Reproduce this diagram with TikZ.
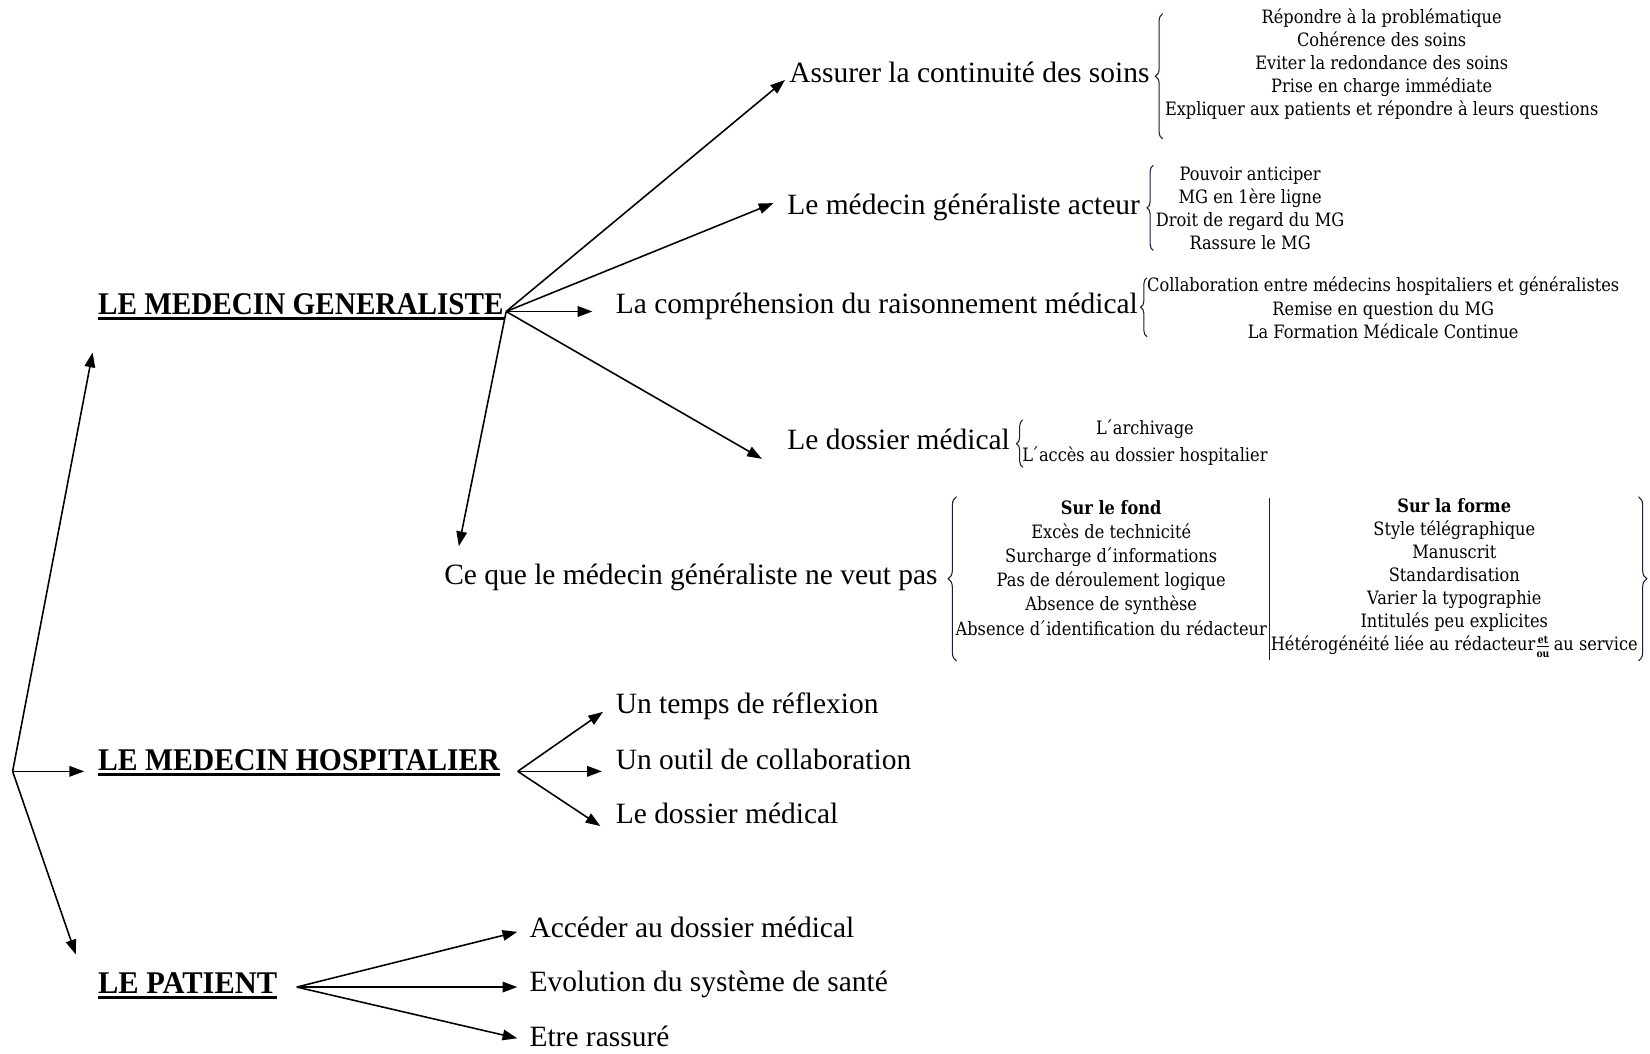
\documentclass[tikz,border=0pt]{standalone}
\usepackage{amsmath}
\usepackage{fontspec}
\setmainfont{Liberation Serif}
\newfontfamily\headf[FakeStretch=0.94]{Liberation Serif}
\newfontfamily\headfmg[FakeStretch=0.925]{Liberation Serif}
\newfontfamily\headfpat[FakeStretch=0.965]{Liberation Serif}
\newfontfamily\smallf[FakeStretch=0.88]{DejaVu Serif}
\usetikzlibrary{arrows.meta,decorations.pathreplacing,calc}
\definecolor{brc}{RGB}{25,30,55}
\begin{document}
\begin{tikzpicture}[x=1pt,y=-1pt,
  head/.style={anchor=base west,inner sep=0pt,font=\headf\bfseries\fontsize{30}{34}\selectfont},
  big/.style={anchor=base west,inner sep=0pt,font=\fontsize{28}{32}\selectfont},
  lst/.style={align=center,inner sep=0pt,font=\smallf\fontsize{17.5}{22}\selectfont},
  arr/.style={line width=1.5pt,-{Triangle[length=14pt,width=10pt]}},
  ul/.style={line width=2.6pt},
  br/.style={draw=brc,line width=1pt,decorate,decoration={brace,amplitude=#1,aspect=0.5}},
  br/.default=6pt,
  sep/.style={draw=brc,line width=1pt}
]
\useasboundingbox[fill=white] (0,0) rectangle (1568,1001);

% headings
\node[head,font=\headfmg\bfseries\fontsize{30}{34}\selectfont] (mg) at (93,299) {LE MEDECIN GENERALISTE};
\node[head] (mh) at (93,732) {LE MEDECIN HOSPITALIER};
\node[head,font=\headfpat\bfseries\fontsize{30}{34}\selectfont] (pat) at (93,944) {LE PATIENT};
\foreach \n in {mg,mh,pat}
  \draw[ul] ($(\n.base west)+(0,4)$) -- ($(\n.base east)+(0,4)$);

% hub points
\coordinate (root) at (12,733);
\coordinate (hubMG) at (481,296);
\coordinate (hubMH) at (492,733);
\coordinate (hubPat) at (282,938);

% second level texts
\node[big] (assurer) at (750,78.5) {Assurer la continuité des soins};
\node[big] (acteur) at (748,204) {Le médecin généraliste acteur};
\node[big] (compr) at (585,298) {La compréhension du raisonnement médical};
\node[big] (dossier) at (748,427) {Le dossier médical};
\node[big] (ceque) at (422,555) {Ce que le médecin généraliste ne veut pas};
\node[big] (temps) at (585,678) {Un temps de réflexion};
\node[big] (outil) at (585,731) {Un outil de collaboration};
\node[big] (dossierh) at (585,782.5) {Le dossier médical};
\node[big] (acceder) at (503,890.5) {Accéder au dossier médical};
\node[big] (evol) at (503,942.5) {Evolution du système de santé};
\node[big] (etre) at (503,994.5) {Etre rassuré};

% arrows from root
\draw[arr] (root) -- ($(mg.base west)+(-5,36)$);
\draw[arr] (root) -- ($(mh.base west)+(-13,1)$);
\draw[arr] (root) -- ($(pat.base west)+(-21,-37)$);

% arrows from MG
\draw[arr] (hubMG) -- ($(assurer.base west)+(-4,-2.5)$);
\draw[arr] (hubMG) -- ($(acteur.base west)+(-13,-11)$);
\draw[arr] (hubMG) -- ($(compr.base west)+(-22,-2)$);
\draw[arr] (hubMG) -- ($(dossier.base west)+(-24,9)$);
\draw[arr] (hubMG) -- ($(ceque.base west)+(14,-36)$);

% arrows from MH
\draw[arr] (hubMH) -- ($(temps.base west)+(-12,-1.5)$);
\draw[arr] (hubMH) -- ($(outil.base west)+(-13,2)$);
\draw[arr] (hubMH) -- ($(dossierh.base west)+(-14.5,2.5)$);

% arrows from patient
\draw[arr] (hubPat) -- ($(acceder.base west)+(-11.4,-5)$);
\draw[arr] (hubPat) -- ($(evol.base west)+(-11.4,-4.5)$);
\draw[arr] (hubPat) -- ($(etre.base west)+(-11.4,-7.8)$);

% lists
\node[lst] (l1) at (1313,61) {Répondre à la problématique\\Cohérence des soins\\Eviter la redondance des soins\\Prise en charge immédiate\\Expliquer aux patients et répondre à leurs questions};
\node[lst] (l2) at (1188,198) {Pouvoir anticiper\\MG en 1ère ligne\\Droit de regard du MG\\Rassure le MG};
\node[lst] (l3) at (1314.5,292.5) {Collaboration entre médecins hospitaliers et généralistes\\Remise en question du MG\\La Formation Médicale Continue};
\node[lst,font=\smallf\fontsize{17.5}{25}\selectfont] (l4) at (1088,420.5) {L\kern-2pt´archivage\\L\kern-2pt´accès au dossier hospitalier};
\node[lst,font=\smallf\fontsize{17.5}{23}\selectfont] (l5a) at (1056,539.5) {\textbf{Sur le fond}\\Excès de technicité\\Surcharge d\kern-2pt´informations\\Pas de déroulement logique\\Absence de synthèse\\Absence d\kern-2pt´identification du rédacteur};
\node[lst] (l5b) at (1382,549) {\textbf{Sur la forme}\\Style télégraphique\\Manuscrit\\Standardisation\\Varier la typographie\\Intitulés peu explicites\\Hétérogénéité liée au rédacteur$\genfrac{}{}{0.8pt}{}{\hbox{\fontsize{10}{10}\selectfont\bfseries et}}{\hbox{\fontsize{10}{10}\selectfont\bfseries ou}}$\,au service};

% braces
\draw[br=7pt] (1105,132) -- (1105,13);
\draw[br] (1096,238) -- (1096,157);
\draw[br] (1090,320) -- (1090,264);
\draw[br] (972,444) -- (972,399);
\draw[br=8pt] (909,628) -- (909,472);
\draw[sep] (1206,473) -- (1206,627);
\draw[br=8pt] (1557,472) -- (1557,628);
\end{tikzpicture}
\end{document}
